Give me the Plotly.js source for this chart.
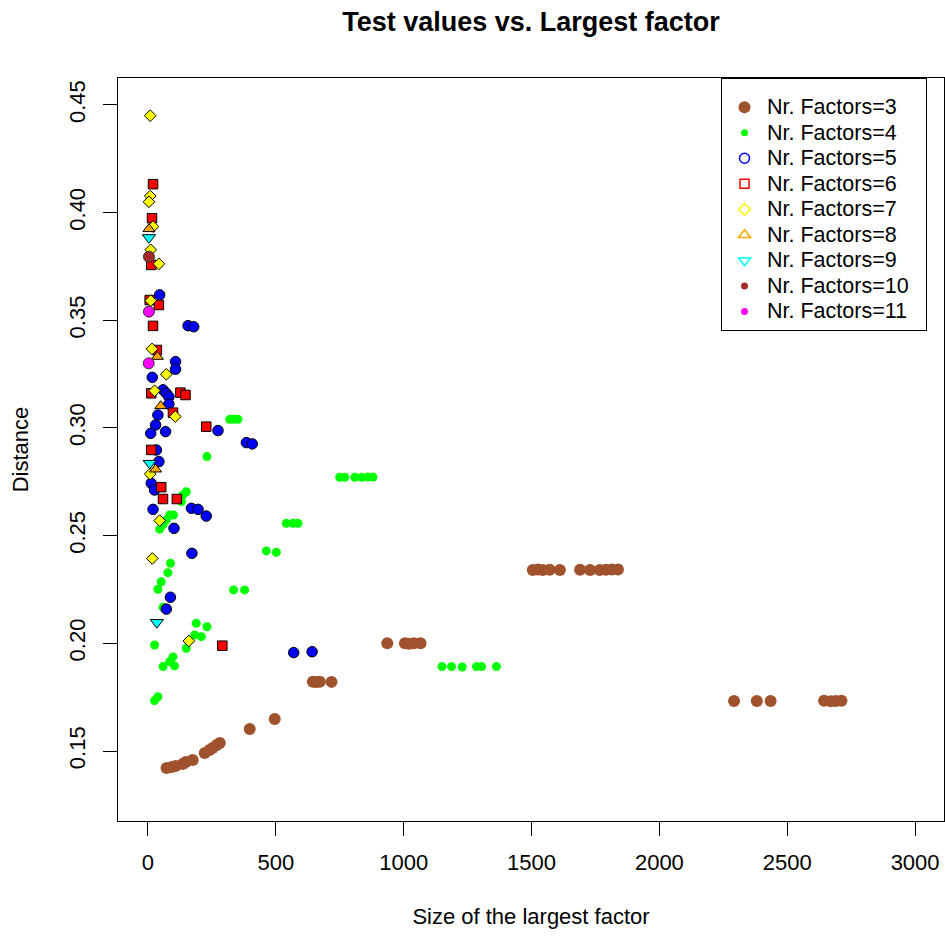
<!DOCTYPE html>
<html><head><meta charset="utf-8">
<script src="https://cdn.plot.ly/plotly-3.0.1.min.js"></script>
<style>html,body{margin:0;padding:0;background:#fff;}#chart{width:945px;height:936px;}</style>
</head><body><div id="chart"></div>
<script>
// ---- data ----
const categories = ['Nr. Factors=3','Nr. Factors=4','Nr. Factors=5','Nr. Factors=6','Nr. Factors=7','Nr. Factors=8','Nr. Factors=9','Nr. Factors=10','Nr. Factors=11'];

const x3 = [73, 93, 108, 136, 148, 175, 222, 241, 253, 269, 281, 398, 496, 645, 658, 672, 718, 936, 1005, 1020, 1040, 1066, 1505, 1525, 1544, 1571, 1611, 1690, 1729, 1767, 1791, 1814, 1838, 2292, 2381, 2435, 2644, 2670, 2690, 2712];
const y3 = [0.1421, 0.1426, 0.1430, 0.1440, 0.1449, 0.1458, 0.1491, 0.1505, 0.1514, 0.1528, 0.1537, 0.1602, 0.1649, 0.1822, 0.1820, 0.1822, 0.1821, 0.2000, 0.2000, 0.1998, 0.2000, 0.2000, 0.2341, 0.2343, 0.2341, 0.2342, 0.2341, 0.2342, 0.2341, 0.2341, 0.2342, 0.2343, 0.2343, 0.1732, 0.1732, 0.1732, 0.1733, 0.1731, 0.1732, 0.1733];

const x4 = [320, 336, 352, 231, 150, 137, 131, 85, 100, 72, 59, 46, 541, 567, 587, 463, 502, 335, 378, 88, 78, 52, 39, 59, 26, 189, 231, 183, 209, 150, 98, 85, 59, 104, 39, 26, 750, 770, 809, 836, 860, 880, 1150, 1187, 1229, 1285, 1305, 1363];
const y4 = [0.3040, 0.3040, 0.3040, 0.2867, 0.2704, 0.2689, 0.2658, 0.2596, 0.2596, 0.2573, 0.2550, 0.2530, 0.2557, 0.2557, 0.2557, 0.2429, 0.2423, 0.2248, 0.2248, 0.2372, 0.2328, 0.2286, 0.2251, 0.2167, 0.1992, 0.2093, 0.2077, 0.2039, 0.2031, 0.1977, 0.1937, 0.1915, 0.1892, 0.1895, 0.1752, 0.1734, 0.2771, 0.2771, 0.2771, 0.2771, 0.2772, 0.2772, 0.1892, 0.1892, 0.1890, 0.1892, 0.1892, 0.1892];

const x5 = [46, 157, 179, 108, 108, 17, 59, 72, 82, 82, 39, 30, 11, 69, 274, 385, 408, 33, 43, 13, 26, 20, 170, 196, 228, 102, 172, 88, 72, 570, 642];
const y5 = [0.3618, 0.3475, 0.3470, 0.3308, 0.3273, 0.3235, 0.3177, 0.3161, 0.3145, 0.3111, 0.3060, 0.3014, 0.2975, 0.2983, 0.2988, 0.2932, 0.2926, 0.2898, 0.2844, 0.2743, 0.2712, 0.2622, 0.2627, 0.2622, 0.2591, 0.2534, 0.2418, 0.2214, 0.2159, 0.1957, 0.1961];

const x6 = [20, 16, 13, 7, 43, 20, 35, 13, 127, 147, 98, 228, 13, 52, 59, 113, 291];
const y6 = [0.4132, 0.3974, 0.3757, 0.3594, 0.3571, 0.3474, 0.3362, 0.3161, 0.3164, 0.3153, 0.3071, 0.3006, 0.2898, 0.2725, 0.2670, 0.2670, 0.1989];

const x7 = [9, 9, 4, 20, 11, 43, 11, 16, 72, 26, 107, 9, 46, 17, 160];
const y7 = [0.4450, 0.4077, 0.4050, 0.3935, 0.3827, 0.3762, 0.3591, 0.3367, 0.3249, 0.3173, 0.3053, 0.2786, 0.2570, 0.2394, 0.2011];

const x8 = [4, 37, 50, 30];
const y8 = [0.3924, 0.3331, 0.3102, 0.2808];

const x9 = [4, 7, 35];
const y9 = [0.3884, 0.2836, 0.2097];

const x10 = [4];
const y10 = [0.3795];

const x11 = [4, 3];
const y11 = [0.3540, 0.3300];

const xTickVals = [0, 500, 1000, 1500, 2000, 2500, 3000];
const xTickText = ['0', '500', '1000', '1500', '2000', '2500', '3000'];
const yTickVals = [0.15, 0.20, 0.25, 0.30, 0.35, 0.40, 0.45];
const yTickText = ['0.15', '0.20', '0.25', '0.30', '0.35', '0.40', '0.45'];

// ---- styles ----
const FONT = 'Liberation Sans, Arial, Helvetica, sans-serif';
const seriesX = [x3, x4, x5, x6, x7, x8, x9, x10, x11];
const seriesY = [y3, y4, y5, y6, y7, y8, y9, y10, y11];
const plotStyle = [
  {color: '#A0522D', symbol: 'circle', size: 12, line: {width: 0}},
  {color: '#00FF00', symbol: 'circle', size: 9, line: {width: 0}},
  {color: '#0000FF', symbol: 'circle', size: 10.5, line: {width: 1, color: '#000'}},
  {color: '#FF0000', symbol: 'square', size: 9.5, line: {width: 1, color: '#000'}},
  {color: '#FFFF00', symbol: 'diamond', size: 9, line: {width: 1, color: '#000'}},
  {color: '#FFA500', symbol: 'triangle-up', size: 10.5, line: {width: 1, color: '#000'}},
  {color: '#00FFFF', symbol: 'triangle-down', size: 11.5, line: {width: 1, color: '#000'}},
  {color: '#A52A2A', symbol: 'circle', size: 11, line: {width: 1, color: '#333'}},
  {color: '#FF00FF', symbol: 'circle', size: 11, line: {width: 1, color: '#333'}}
];
const legendStyle = [
  {color: '#A0522D', symbol: 'circle', size: 12},
  {color: '#00FF00', symbol: 'circle', size: 7},
  {color: '#0000FF', symbol: 'circle-open', size: 10, line: {width: 1.5, color: '#0000FF'}},
  {color: '#FF0000', symbol: 'square-open', size: 9, line: {width: 1.5, color: '#FF0000'}},
  {color: '#FFFF00', symbol: 'diamond-open', size: 9, line: {width: 1.5, color: '#FFFF00'}},
  {color: '#FFA500', symbol: 'triangle-up-open', size: 10.5, line: {width: 1.5, color: '#FFA500'}},
  {color: '#00FFFF', symbol: 'triangle-down-open', size: 10.5, line: {width: 1.5, color: '#00FFFF'}},
  {color: '#A52A2A', symbol: 'circle', size: 7},
  {color: '#FF00FF', symbol: 'circle', size: 7}
];

const traces = [];
for (let i = 0; i < categories.length; i++) {
  traces.push({
    type: 'scatter', mode: 'markers', x: seriesX[i], y: seriesY[i],
    name: categories[i], showlegend: false, hoverinfo: 'x+y+name',
    marker: plotStyle[i]
  });
}
for (let i = 0; i < categories.length; i++) {
  traces.push({
    type: 'scatter', mode: 'markers', x: [null], y: [null],
    name: '<span style="font-size:21.5px">' + categories[i] + '\u00a0\u00a0</span>',
    showlegend: true, hoverinfo: 'skip',
    marker: legendStyle[i]
  });
}

const layout = {
  width: 945, height: 936,
  margin: {l: 118, r: 1, t: 78, b: 115, pad: 0},
  paper_bgcolor: '#fff', plot_bgcolor: '#fff',
  font: {family: FONT, color: '#000', size: 21},
  title: {text: 'Test values vs. Largest factor', font: {family: FONT, size: 27, weight: 'bold', color: '#000'},
          xref: 'paper', x: 0.5, xanchor: 'center', yref: 'container', y: 1 - 22 / 936, yanchor: 'middle'},
  xaxis: {
    range: [-117, 3113], tickmode: 'array', tickvals: xTickVals, ticktext: xTickText,
    showgrid: false, zeroline: false, showline: true, mirror: true, linecolor: '#000', linewidth: 1,
    ticks: 'outside', ticklen: 14, tickwidth: 1, tickcolor: '#000', ticklabelstandoff: 8,
    tickfont: {family: FONT, size: 22, color: '#000'},
    title: {text: 'Size of the largest factor', font: {family: FONT, size: 22, color: '#000'}, standoff: 34},
    automargin: false
  },
  yaxis: {
    range: [0.1175, 0.4625], tickmode: 'array', tickvals: yTickVals, ticktext: yTickText,
    showgrid: false, zeroline: false, showline: true, mirror: true, linecolor: '#000', linewidth: 1,
    ticks: 'outside', ticklen: 14, tickwidth: 1, tickcolor: '#000', tickangle: -90, ticklabelstandoff: 9,
    tickfont: {family: FONT, size: 22, color: '#000'},
    title: {text: 'Distance', font: {family: FONT, size: 22, color: '#000'}, standoff: 30},
    automargin: false
  },
  legend: {
    x: (721 - 118) / 826, xanchor: 'left', y: 1, yanchor: 'top',
    bgcolor: '#fff', bordercolor: '#000', borderwidth: 1,
    font: {family: FONT, size: 17.35, color: '#000'},
    title: {text: '\u00a0', font: {family: FONT, size: 8, color: '#000'}},
    itemclick: false, itemdoubleclick: false, itemwidth: 35
  },
  showlegend: true
};

Plotly.newPlot('chart', traces, layout, {displayModeBar: false, staticPlot: true});
</script>
</body></html>
